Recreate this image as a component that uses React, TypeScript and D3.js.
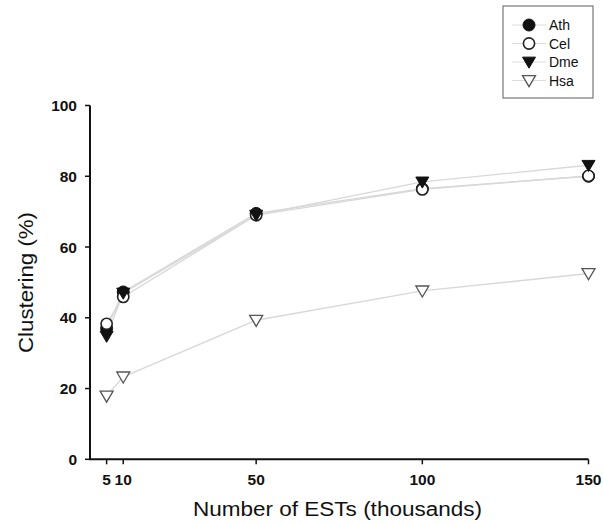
import React from "react";
import * as d3 from "d3";

const xValues = [5, 10, 50, 100, 150];
const athValues = [37, 47.3, 69.5, 76.5, 80];
const celValues = [38.3, 45.9, 69, 76.3, 80.1];
const dmeValues = [34.8, 47, 69, 78.4, 83.1];
const hsaValues = [17.9, 23.3, 39.3, 47.6, 52.5];
const xTicks = [5, 10, 50, 100, 150];
const yTicks = [0, 20, 40, 60, 80, 100];
const seriesNames = ["Ath", "Cel", "Dme", "Hsa"];

type MarkerKind = "filledCircle" | "openCircle" | "filledTri" | "openTri";
const seriesList: { name: string; values: number[]; kind: MarkerKind }[] = [
  { name: seriesNames[3], values: hsaValues, kind: "openTri" },
  { name: seriesNames[0], values: athValues, kind: "filledCircle" },
  { name: seriesNames[1], values: celValues, kind: "openCircle" },
  { name: seriesNames[2], values: dmeValues, kind: "filledTri" },
];

function Marker({ kind, cx, cy }: { kind: MarkerKind; cx: number; cy: number }) {
  if (kind === "filledCircle") return <circle cx={cx} cy={cy} r={6} fill="#111" stroke="#111" strokeWidth={1} />;
  if (kind === "openCircle") return <circle cx={cx} cy={cy} r={5.6} fill="#fff" stroke="#222" strokeWidth={1.6} />;
  const s = 6.5;
  const pts = `${cx - s},${cy - s * 0.75} ${cx + s},${cy - s * 0.75} ${cx},${cy + s * 0.95}`;
  if (kind === "filledTri") return <polygon points={pts} fill="#111" stroke="#111" strokeWidth={1} />;
  return <polygon points={pts} fill="#fff" stroke="#555" strokeWidth={1.3} />;
}

export default function App() {
  const x = d3.scaleLinear().domain([0, 150]).range([90, 588.5]);
  const y = d3.scaleLinear().domain([0, 100]).range([459.3, 105.5]);
  const line = d3.line<number>().x((_, i) => x(xValues[i])).y((d) => y(d));
  const font = "Arial, 'Liberation Sans', sans-serif";

  const legendKinds: MarkerKind[] = ["filledCircle", "openCircle", "filledTri", "openTri"];

  return (
    <svg width={604} height={524} style={{ position: "absolute", left: 0, top: 0, background: "#fff" }} fontFamily={font}>
      <rect x={0} y={0} width={604} height={524} fill="#fff" />
      {/* lines */}
      {seriesList.map((s) => (
        <path key={"l" + s.name} d={line(s.values) || ""} fill="none" stroke="#d8d8d8" strokeWidth={1.4} />
      ))}
      {/* axes */}
      <line x1={90} x2={90} y1={y(100)} y2={y(0)} stroke="#111" strokeWidth={2} />
      <line x1={89} x2={x(150)} y1={y(0)} y2={y(0)} stroke="#111" strokeWidth={2} />
      {yTicks.map((t) => (
        <g key={"yt" + t}>
          <line x1={85} x2={90} y1={y(t)} y2={y(t)} stroke="#111" strokeWidth={1.5} />
          <text x={77} y={y(t)} dy="0.36em" textAnchor="end" fontSize={15.5} fontWeight="bold" fill="#111">
            {t}
          </text>
        </g>
      ))}
      {xTicks.map((t) => (
        <g key={"xt" + t}>
          <line x1={x(t)} x2={x(t)} y1={y(0)} y2={y(0) + 5} stroke="#111" strokeWidth={1.5} />
          <text x={x(t)} y={485} textAnchor="middle" fontSize={15.5} fontWeight="bold" fill="#111">
            {t}
          </text>
        </g>
      ))}
      {/* markers */}
      {seriesList.map((s) =>
        s.values.map((v, i) => <Marker key={s.name + i} kind={s.kind} cx={x(xValues[i])} cy={y(v)} />)
      )}
      {/* axis titles */}
      <text x={337.5} y={516} textAnchor="middle" fontSize={20} fill="#111" textLength={289} lengthAdjust="spacingAndGlyphs">
        Number of ESTs (thousands)
      </text>
      <text transform={`translate(33,282.5) rotate(-90)`} textAnchor="middle" fontSize={20} fill="#111" textLength={141} lengthAdjust="spacingAndGlyphs">
        Clustering (%)
      </text>
      {/* legend */}
      <rect x={503} y={6} width={90} height={92} fill="#fff" stroke="#777" strokeWidth={1.2} />
      {seriesNames.map((n, i) => {
        const cy = 25 + i * 18.5;
        return (
          <g key={"lg" + n}>
            <line x1={512} x2={546} y1={cy} y2={cy} stroke="#dcdcdc" strokeWidth={1.2} />
            <Marker kind={legendKinds[i]} cx={529} cy={cy} />
            <text x={549} y={cy} dy="0.36em" fontSize={14} fill="#111">
              {n}
            </text>
          </g>
        );
      })}
    </svg>
  );
}
